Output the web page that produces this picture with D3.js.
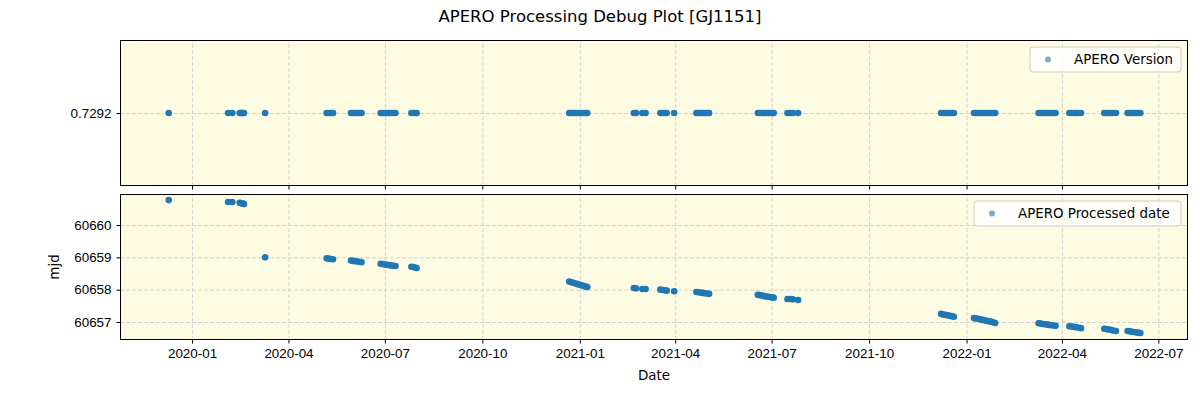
<!DOCTYPE html>
<html>
<head>
<meta charset="utf-8">
<script src="https://cdn.jsdelivr.net/npm/d3@7"></script>
<style>
  body { margin: 0; background: #fff; }
  svg { font-family: "DejaVu Sans", sans-serif; }
  .tick text { font-size: 13.4px; fill: #000; }
  .grid line { stroke: #d3d3d3; stroke-dasharray: 4,2; }
</style>
</head>
<body>
<svg width="1200" height="400"></svg>
<script>
// observation dates
const dates = [
  "2019-12-10",
  "2020-02-04","2020-02-08","2020-02-15","2020-02-16","2020-02-17","2020-02-18","2020-02-19",
  "2020-03-10",
  "2020-05-07","2020-05-09","2020-05-11","2020-05-13",
  "2020-05-30","2020-06-01","2020-06-03","2020-06-05","2020-06-07","2020-06-09",
  "2020-06-27","2020-06-29","2020-07-01","2020-07-03","2020-07-05","2020-07-07","2020-07-09","2020-07-11",
  "2020-07-26","2020-07-28","2020-07-30","2020-07-31",
  "2020-12-22","2020-12-24","2020-12-26","2020-12-28","2020-12-30","2021-01-01","2021-01-03","2021-01-05","2021-01-07","2021-01-08",
  "2021-02-21","2021-02-23","2021-03-01","2021-03-04",
  "2021-03-18","2021-03-20","2021-03-22","2021-03-24","2021-03-31",
  "2021-04-21","2021-04-23","2021-04-25","2021-04-27","2021-04-29","2021-05-01","2021-05-03",
  "2021-06-18","2021-06-20","2021-06-22","2021-06-24","2021-06-26","2021-06-28","2021-06-30","2021-07-02","2021-07-03",
  "2021-07-16","2021-07-19","2021-07-21","2021-07-26",
  "2021-12-08","2021-12-10","2021-12-12","2021-12-14","2021-12-16","2021-12-18","2021-12-20",
  "2022-01-08","2022-01-10","2022-01-12","2022-01-14","2022-01-16","2022-01-18","2022-01-20","2022-01-22","2022-01-24","2022-01-26","2022-01-28",
  "2022-03-10","2022-03-12","2022-03-14","2022-03-16","2022-03-18","2022-03-20","2022-03-22","2022-03-24","2022-03-26",
  "2022-04-08","2022-04-10","2022-04-12","2022-04-14","2022-04-16","2022-04-19",
  "2022-05-11","2022-05-13","2022-05-15","2022-05-17","2022-05-19","2022-05-22",
  "2022-06-02","2022-06-04","2022-06-06","2022-06-08","2022-06-10","2022-06-12","2022-06-14"
];

// processed date (mjd)
const processed = [
  60660.77,
  60660.71,60660.71,60660.69,60660.68,60660.67,60660.66,60660.65,
  60659.00,
  60658.97,60658.96,60658.95,60658.94,
  60658.90,60658.89,60658.88,60658.87,60658.86,60658.85,
  60658.80,60658.79,60658.78,60658.77,60658.76,60658.75,60658.74,60658.73,
  60658.71,60658.70,60658.68,60658.67,
  60658.25,60658.23,60658.21,60658.19,60658.17,60658.15,60658.13,60658.11,60658.09,60658.08,
  60658.05,60658.04,60658.02,60658.02,
  60658.00,60657.99,60657.98,60657.97,60657.95,
  60657.93,60657.92,60657.91,60657.90,60657.89,60657.88,60657.87,
  60657.84,60657.83,60657.82,60657.80,60657.79,60657.78,60657.77,60657.76,60657.75,
  60657.71,60657.71,60657.70,60657.68,
  60657.25,60657.23,60657.22,60657.21,60657.19,60657.18,60657.16,
  60657.12,60657.11,60657.10,60657.08,60657.07,60657.05,60657.04,60657.02,60657.01,60656.99,60656.97,
  60656.96,60656.95,60656.94,60656.93,60656.92,60656.91,60656.90,60656.89,60656.88,
  60656.87,60656.86,60656.85,60656.84,60656.83,60656.81,
  60656.79,60656.78,60656.77,60656.76,60656.74,60656.72,
  60656.72,60656.71,60656.70,60656.69,60656.68,60656.67,60656.66
];

// apero version, same for every file
const versions = dates.map(() => 0.7292);
const versionTicks = [0.7292];
const mjdTicks = [60657, 60658, 60659, 60660];

const parse = d3.timeParse("%Y-%m-%d");
const data = dates.map((d, i) => ({ date: parse(d), mjd: processed[i], ver: versions[i] }));

const svg = d3.select('svg');
const left = 120, right = 1188;
const bg = '#fdfbe2';
const dotColor = '#1f77b4';

const x = d3.scaleTime()
  .domain([parse("2019-10-25"), parse("2022-07-29")])
  .range([left, right]);
const xTicks = d3.timeMonth.every(3).range(parse("2019-12-01"), parse("2022-08-01"));

svg.append('text')
  .attr('x', 600).attr('y', 22)
  .attr('text-anchor', 'middle')
  .style('font-size', '16.5px')
  .text('APERO Processing Debug Plot [GJ1151]');

function panel(top, bottom, yScale, yTicks, yFmt, key, label, legendW, showX) {
  const g = svg.append('g');
  g.append('rect')
    .attr('x', left).attr('y', top)
    .attr('width', right - left).attr('height', bottom - top)
    .attr('fill', bg);

  // grid
  g.append('g').attr('class', 'grid')
    .attr('transform', `translate(0, ${bottom})`)
    .call(d3.axisBottom(x).tickValues(xTicks).tickSize(-(bottom - top)).tickFormat(''))
    .call(a => a.select('.domain').remove());
  g.append('g').attr('class', 'grid')
    .attr('transform', `translate(${left}, 0)`)
    .call(d3.axisLeft(yScale).tickValues(yTicks).tickSize(-(right - left)).tickFormat(''))
    .call(a => a.select('.domain').remove());

  g.append('g')
    .selectAll('circle')
    .data(data)
    .enter()
    .append('circle')
    .attr('cx', d => x(d.date))
    .attr('cy', d => yScale(d[key]))
    .attr('r', 3.3)
    .attr('fill', dotColor);

  // axes
  g.append('g')
    .attr('transform', `translate(0, ${bottom})`)
    .call(d3.axisBottom(x).tickValues(xTicks).tickSize(3.5).tickPadding(5)
      .tickFormat(showX ? d3.timeFormat('%Y-%m') : ''))
    .call(a => a.select('.domain').remove());
  g.append('g')
    .attr('transform', `translate(${left}, 0)`)
    .call(d3.axisLeft(yScale).tickValues(yTicks).tickSize(3.5).tickPadding(5).tickFormat(yFmt))
    .call(a => a.select('.domain').remove());

  g.append('rect')
    .attr('x', left + 0.5).attr('y', top + 0.5)
    .attr('width', right - left - 1).attr('height', bottom - top - 1)
    .attr('fill', 'none').attr('stroke', '#000').attr('stroke-width', 1);

  // legend
  const lx = 1181 - legendW, ly = top + 7;
  g.append('rect')
    .attr('x', lx).attr('y', ly)
    .attr('width', legendW).attr('height', 25)
    .attr('rx', 3)
    .attr('fill', '#fff').attr('fill-opacity', 0.8)
    .attr('stroke', '#ccc');
  g.append('circle')
    .attr('cx', lx + 18).attr('cy', ly + 12.5)
    .attr('r', 3)
    .attr('fill', dotColor).attr('opacity', 0.6);
  g.append('text')
    .attr('x', lx + 44).attr('y', ly + 17)
    .style('font-size', '13.4px')
    .text(label);
}

const yTop = d3.scaleLinear().domain([0.7292 - 0.05, 0.7292 + 0.05]).range([186, 40]);
const yBot = d3.scaleLinear().domain([60656.443, 60660.959]).range([340, 194]);

panel(40, 186, yTop, versionTicks, d3.format('.4f'), 'ver', 'APERO Version', 151, false);
panel(194, 340, yBot, mjdTicks, d3.format('d'), 'mjd', 'APERO Processed date', 207, true);

svg.append('text')
  .attr('x', (left + right) / 2).attr('y', 380)
  .attr('text-anchor', 'middle')
  .style('font-size', '13.4px')
  .text('Date');

svg.append('text')
  .attr('transform', 'translate(59, 267) rotate(-90)')
  .attr('text-anchor', 'middle')
  .style('font-size', '13.4px')
  .text('mjd');
</script>
</body>
</html>
